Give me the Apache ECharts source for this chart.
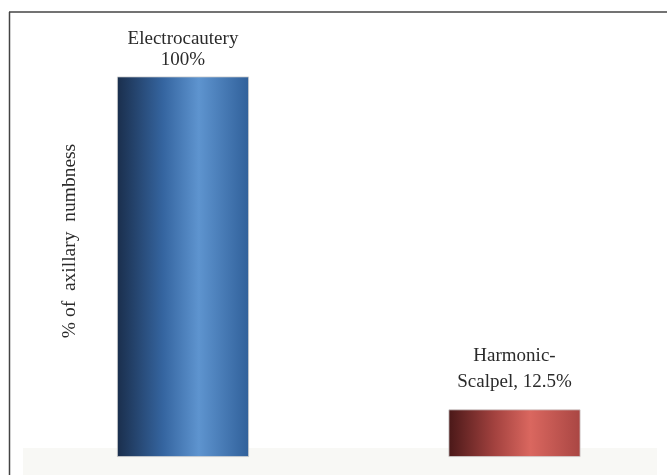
<!DOCTYPE html>
<html>
<head>
<meta charset="utf-8">
<script src="https://cdn.jsdelivr.net/npm/echarts@6/dist/echarts.min.js"></script>
<style>
  html, body { margin: 0; padding: 0; background: #ffffff; }
  #chart { width: 667px; height: 475px; }
</style>
</head>
<body>
<div id="chart"></div>
<script>
// Groups compared and the share of patients reporting axillary numbness (%)
const categories = ['Electrocautery', 'Harmonic-Scalpel'];
const numbnessPct = [100, 12.5];
const labelTexts = ['Electrocautery\n100%', 'Harmonic-\nScalpel, 12.5%'];
const axisTitle = '% of  axillary  numbness';

const serif = '"Liberation Serif", "DejaVu Serif", serif';

function sheen(dark, mid, bright, right) {
  return new echarts.graphic.LinearGradient(0, 0, 1, 0, [
    { offset: 0, color: dark },
    { offset: 0.35, color: mid },
    { offset: 0.62, color: bright },
    { offset: 1, color: right }
  ]);
}

const barStyles = [
  { fill: sheen('#1a2e4c', '#3565a0', '#5e94cf', '#30609a'), lineHeight: 21, distance: 6 },
  { fill: sheen('#4a1818', '#a3423f', '#da675f', '#a94643'), lineHeight: 26, distance: 14 }
];

const chart = echarts.init(document.getElementById('chart'), null, { renderer: 'canvas' });

chart.setOption({
  animation: false,
  backgroundColor: '#ffffff',
  // categories sit on the grid edges (boundaryGap off), so the grid spans bar centre to bar centre
  grid: { left: 183, right: 152.5, top: 76.5, bottom: 18, containLabel: false },
  xAxis: {
    type: 'category',
    data: categories,
    boundaryGap: false,
    axisLine: { show: false },
    axisTick: { show: false },
    axisLabel: { show: false }
  },
  yAxis: {
    type: 'value',
    min: 0,
    max: 100,
    axisLine: { show: false },
    axisTick: { show: false },
    axisLabel: { show: false },
    splitLine: { show: false }
  },
  graphic: [
    // frame edges
    { type: 'line', shape: { x1: 9, y1: 12, x2: 667, y2: 12 }, style: { stroke: '#444', lineWidth: 1.5 }, z: 10 },
    { type: 'line', shape: { x1: 9.5, y1: 12, x2: 9.5, y2: 475 }, style: { stroke: '#444', lineWidth: 1.5 }, z: 10 },
    // faint floor under the bars
    { type: 'rect', shape: { x: 23, y: 448, width: 634, height: 27 }, style: { fill: '#f8f8f5' }, z: -1 },
    // axis title
    {
      type: 'text',
      x: 70, y: 241,
      rotation: Math.PI / 2,
      style: {
        text: axisTitle,
        font: '19.5px ' + serif,
        fill: '#2a2a2a',
        textAlign: 'center',
        textVerticalAlign: 'middle'
      }
    }
  ],
  series: [{
    type: 'bar',
    barWidth: 132,
    data: numbnessPct.map((v, i) => ({
      value: v,
      itemStyle: {
        color: barStyles[i].fill,
        borderColor: '#cfcfcf',
        borderWidth: 0.8
      },
      label: {
        show: true,
        position: 'top',
        distance: barStyles[i].distance,
        formatter: labelTexts[i],
        color: '#2a2a2a',
        fontFamily: serif,
        fontSize: 19,
        lineHeight: barStyles[i].lineHeight,
        align: 'center'
      }
    }))
  }]
});
</script>
</body>
</html>
